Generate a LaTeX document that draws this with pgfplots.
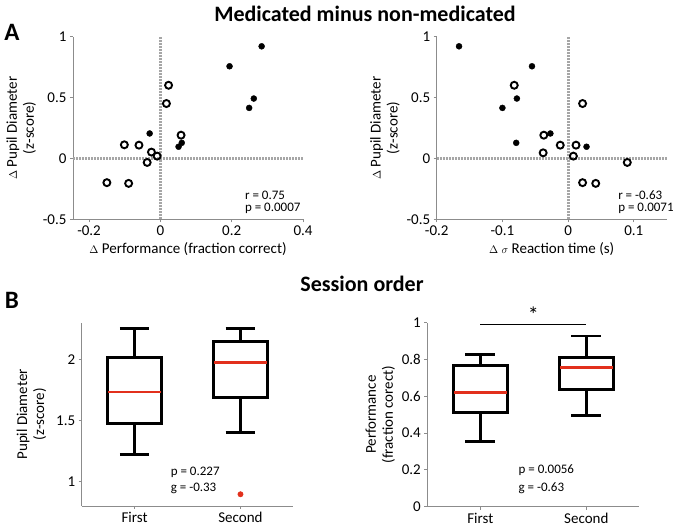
\documentclass[border=0pt]{standalone}
\usepackage{pgfplots}
\pgfplotsset{compat=1.18}
\usepgfplotslibrary{statistics}
\usepackage{fontspec}
\setmainfont{Carlito}
\definecolor{axgray}{HTML}{8C8C8C}
\definecolor{zgray}{HTML}{A6A6A6}
\definecolor{medred}{HTML}{E2301C}
\newcommand{\dlt}{$\scriptstyle\Delta$}
\tikzset{
  stat/.style={font=\fontsize{13}{15}\selectfont, anchor=west, inner sep=0pt},
  zline/.style={zgray, line width=3pt, dash pattern=on 2pt off 1pt},
  filled/.style={only marks, mark=*, mark size=3pt, black},
  open/.style={only marks, mark=o, mark size=3.5pt, black, line width=1.9pt},
  bx/.style={black, line width=2.7pt, solid, line join=miter},
  med/.style={medred, line width=2.7pt},
}
\pgfplotsset{
  base/.style={
    scale only axis,
    anchor=south west,
    axis lines=left,
    axis line style={axgray, line width=0.9pt, -},
    tick style={axgray, line width=0.8pt},
    tick align=outside,
    major tick length=3pt,
    clip=false,
    /pgf/number format/assume math mode=true,
    ticklabel style={font=\fontsize{15}{17}\selectfont},
    label style={font=\fontsize{15}{17}\selectfont},
    ylabel style={align=center},
    boxplot/draw direction=y,
  },
}
\begin{document}
\begin{tikzpicture}
\useasboundingbox (0pt,0pt) rectangle (675pt,530pt);
\fill[white] (0pt,0pt) rectangle (675pt,530pt);
\node[font=\fontsize{22}{24}\bfseries] at (365pt,516pt) {Medicated minus non-medicated};
\node[font=\fontsize{22}{24}\bfseries] at (362pt,246pt) {Session order};
\node[font=\fontsize{25}{27}\bfseries] at (12pt,498pt) {A};
\node[font=\fontsize{25}{27}\bfseries] at (12pt,230pt) {B};

% A left
\begin{axis}[base, at={(73pt,310.7pt)}, width=230pt, height=182.6pt,
  xmin=-0.245, xmax=0.4, ymin=-0.5, ymax=1,
  xtick={-0.2,0,0.2,0.4}, ytick={-0.5,0,0.5,1},
  xlabel={\dlt\ Performance (fraction correct)},
  ylabel={\dlt\ Pupil Diameter\\(z-score)}]
\addplot[zline] coordinates {(-0.245,0) (0.4,0)};
\addplot[zline] coordinates {(0,-0.5) (0,1)};
\addplot[open] coordinates {(0.023,0.601) (0.017,0.451) (0.058,0.191) (-0.101,0.112) (-0.060,0.109) (-0.025,0.052) (-0.009,0.019) (-0.037,-0.033) (-0.150,-0.199) (-0.089,-0.205)};
\addplot[filled] coordinates {(0.284,0.921) (0.194,0.757) (0.262,0.492) (0.249,0.415) (-0.030,0.205) (0.060,0.128) (0.051,0.096)};
\node[stat] at (axis cs:0.237,-0.30) {r = 0.75};
\node[stat] at (axis cs:0.237,-0.41) {p = 0.0007};
\end{axis}

% A right
\begin{axis}[base, at={(436.7pt,310.7pt)}, width=230pt, height=182.6pt,
  xmin=-0.2, xmax=0.15, ymin=-0.5, ymax=1,
  xtick={-0.2,-0.1,0,0.1}, ytick={-0.5,0,0.5,1},
  xlabel={\dlt\ $\scriptstyle\sigma$ Reaction time (s)},
  ylabel={\dlt\ Pupil Diameter\\(z-score)}]
\addplot[zline] coordinates {(-0.2,0) (0.15,0)};
\addplot[zline] coordinates {(0,-0.5) (0,1)};
\addplot[open] coordinates {(-0.082,0.601) (0.022,0.451) (-0.037,0.191) (-0.012,0.109) (0.012,0.109) (-0.038,0.046) (0.008,0.019) (0.090,-0.033) (0.022,-0.199) (0.042,-0.205)};
\addplot[filled] coordinates {(-0.166,0.921) (-0.055,0.757) (-0.078,0.492) (-0.100,0.415) (-0.027,0.205) (-0.079,0.128) (0.028,0.096)};
\node[stat] at (axis cs:0.076,-0.30) {r = -0.63};
\node[stat] at (axis cs:0.076,-0.41) {p = 0.0071};
\end{axis}

% B left
\begin{axis}[base, at={(81.7pt,24pt)}, width=211.7pt, height=183.3pt,
  xmin=0.5, xmax=2.5, ymin=0.8, ymax=2.3,
  xtick={1,2}, xticklabels={First,Second}, ytick={1,1.5,2},
  ylabel shift=3pt,
  ylabel={Pupil Diameter\\(z-score)}]
\addplot[bx, boxplot prepared={lower whisker=1.224, lower quartile=1.475, median=1.732, upper quartile=2.014, upper whisker=2.254, draw position=1, box extend=0.51, whisker extend=0.28}] coordinates {};
\addplot[bx, boxplot prepared={lower whisker=1.404, lower quartile=1.686, median=1.975, upper quartile=2.145, upper whisker=2.251, draw position=2, box extend=0.51, whisker extend=0.28}] coordinates {};
\addplot[med] coordinates {(0.75,1.732) (1.25,1.732)};
\addplot[med] coordinates {(1.75,1.975) (2.25,1.975)};
\addplot[only marks, mark=*, mark size=2.7pt, medred] coordinates {(2,0.896)};
\node[stat] at (axis cs:1.34,1.079) {p = 0.227};
\node[stat] at (axis cs:1.34,0.943) {g = -0.33};
\end{axis}

% B right
\begin{axis}[base, at={(427.3pt,23.3pt)}, width=212pt, height=184pt,
  xmin=0.5, xmax=2.5, ymin=0, ymax=1,
  xtick={1,2}, xticklabels={First,Second}, ytick={0,0.2,0.4,0.6,0.8,1},
  ylabel={Performance\\(fraction corect)}]
\addplot[bx, boxplot prepared={lower whisker=0.353, lower quartile=0.513, median=0.620, upper quartile=0.766, upper whisker=0.828, draw position=1, box extend=0.51, whisker extend=0.28}] coordinates {};
\addplot[bx, boxplot prepared={lower whisker=0.495, lower quartile=0.638, median=0.757, upper quartile=0.812, upper whisker=0.928, draw position=2, box extend=0.51, whisker extend=0.28}] coordinates {};
\addplot[med] coordinates {(0.75,0.620) (1.25,0.620)};
\addplot[med] coordinates {(1.75,0.757) (2.25,0.757)};
\addplot[black, line width=0.8pt] coordinates {(1,0.99) (2,0.99)};
\node[font=\fontsize{22}{24}\selectfont] at (axis cs:1.5,1.045) {*};
\node[stat] at (axis cs:1.36,0.199) {p = 0.0056};
\node[stat] at (axis cs:1.36,0.10) {g = -0.63};
\end{axis}
\end{tikzpicture}
\end{document}
